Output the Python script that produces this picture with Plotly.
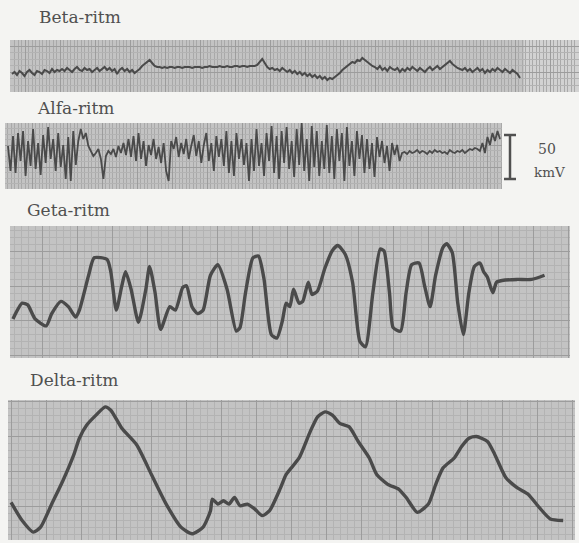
import numpy as np
import plotly.graph_objects as go

W, H = 579, 543

# ---------------- data ----------------
# Beta rhythm: amplitude samples (small, fast)
beta_v = [-2, 0, -3, 1, -1, -4, 0, 2, -1, -3, 1, 0, -2, 2, 1, -1, 3, 0, 2, 1,
          3, 1, 4, 2, 0, 3, 5, 2, 1, 4, 2, 3, 0, 2, 4, 1,
          3, 5, 2, 4, 1, 3, -2, 2, 4, 1, 3, 0, 2, -1, 1,
          3, 6, 8, 10, 12, 9, 6,
          5, 5, 4, 5, 4, 5, 5, 4, 5, 5, 4, 5, 5, 5, 4, 5, 5, 5, 4, 5, 5, 6, 5, 5, 5, 6, 5, 5, 6, 5, 5, 6, 6, 5, 6, 6, 5, 6, 6, 6, 7,
          10, 13, 9, 5, 3,
          4, 2, 3, 1, 4, 2, 0, 2, -1, 1, -2, 0, -3, -1, -4, -2, -5, -3, -6, -4, -7, -5, -8, -6, -7, -5,
          -3, -1, 2, 4, 6, 8, 10, 9, 12, 11, 14, 12, 10, 8, 6,
          5, 3, 6, 2, 4, 1, 5, 3, 2, 4, 0, 3, 1, 4, 2, 5, 3, 1, 4, 2, 0, 3, 5, 2, 4, 6, 3, 5, 7,
          9, 11, 8, 6, 4, 3,
          2, 4, 1, 3, 0, 2, 4, 1, 3, -1, 2, 0, 3, 1, 4, 2, 0, 3, 1, -1, 2, 0, -2, -6]

# Alpha rhythm: amplitude samples
alfa_v = [5, -20, 15, -22, 18, -10, 20, -25, 10, -15, 22, -18, 8, -24, 16, -12, 24, -8, 12, -20,
          18, -16, 6, -28, 14, -30, 20, -14, 10,
          22, 12, 18, 5, 0, -5, -2, 2, -8, -28,
          -5, 0, -3, 2, -6, 5, -2, 8, -4, 12, -6, 15, -10, 18, -8, 10, -15, 6, -4, 12, -8, 4, -12, 8, -20, -30,
          10, 2, 14, -6, 8, -3, 12, -8, 5, 16, -5, 10, -12, 6, 18, -10, 8, -20, 15, -6, 12, -15, 20, -22,
          10, -25, 18, -8, 12, -14, 8, -30,
          12, -20, 22, -15, 8, -25, 18, -10, 25, -22, 15, -28, 20, -12, 24, -18, 10, -26, 22, -14, 28, -20,
          12, -30, 25, -16, 20, -25, 10, -18, 26, -22,
          15, -28, 22, -10, 18, -30, 24, -15, 10, -25, 20, -8, 16, -22, 12, -18, 8, -26, 14, -6, 10, -12,
          5, -20, 8, -4, 6, -10,
          -2, -1, -3, 0, -2, -1, 1, -2, 0, -1, -3, 0, -2, 1, -1, 0, -2, -1, -3, 1, -1, -2, 0, -1, 1, -2,
          0, 2, 1, 3, 2, 0,
          8, -2, 14, 6, 18, 10, 20, 12]

beta_t = np.linspace(12, 520, len(beta_v))
alfa_t = np.linspace(8, 500, len(alfa_v))

# Theta ("Geta") rhythm
geta_t = [35, 60, 75, 95, 125, 140, 165, 185, 205, 215, 240, 255, 290, 300, 315, 330, 340, 355, 375, 395,
          405, 420, 435, 460, 475, 495, 505, 520, 535, 550, 570, 590, 615, 640, 650, 665, 685, 700, 715, 735,
          750, 765, 775, 785, 795, 810, 820, 835, 845, 860, 880, 900, 915, 935, 955, 975, 990, 1010, 1030, 1040,
          1055, 1065, 1085, 1100, 1115, 1135, 1150, 1165, 1180, 1200, 1210, 1225, 1240, 1255, 1270, 1285, 1300,
          1310, 1320, 1335, 1345, 1360, 1400, 1440, 1475]
geta_v = [-75, -30, -35, -75, -95, -60, -25, -40, -70, -50, 50, 100, 95, 60, -50, 20, 60, 10, -85, 10,
          75, 0, -105, -40, -50, 15, 20, -40, -60, -50, 50, 80, 10, -110, -100, 0, 100, 105, 40, -120,
          -130, -80, -30, -40, 10, -30, -25, 30, -5, 5, 70, 120, 135, 110, 30, -140, -155, 0, 125, 120,
          0, -100, -110, 0, 80, 85, 20, -40, 50, 130, 140, 115, -30, -120, 0, 75, 85,
          60, 45, 0, 30, 35, 38, 38, 50]

# Delta rhythm
delta_t = [30, 60, 90, 110, 140, 170, 200, 215, 235, 260, 285, 300, 330, 370, 410, 450, 490, 520, 550, 570,
           575, 590, 605, 620, 635, 650, 670, 690, 710, 730, 760, 775, 810, 840, 860, 880, 900, 920, 945, 970,
           1000, 1020, 1050, 1080, 1100, 1130, 1160, 1180, 1200, 1230, 1250, 1270, 1290, 1320, 1340, 1370,
           1400, 1430, 1460, 1490, 1525]
delta_v = [-95, -150, -185, -170, -100, -30, 50, 100, 140, 170, 195, 185, 130, 80, -10, -100, -170, -190, -170, -120,
           -85, -100, -90, -100, -80, -105, -100, -115, -135, -120, -50, -10, 40, 120, 165, 180, 170, 145, 135, 90,
           40, -10, -40, -55, -80, -125, -100, -40, 10, 40, 75, 100, 105, 90, 50, -20,
           -50, -70, -110, -145, -150]

labels = ["Beta-ritm", "Alfa-ritm", "Geta-ritm", "Delta-ritm"]
scale_value = 50          # kmV, height of the calibration bar
scale_text = ["50", "kmV"]

# ---------------- layout / style ----------------
BG = "#f4f4f2"
PANEL = "#c3c3c3"
MAJOR = "#9c9c9c"
MINOR = "#b3b3b3"
INK = "#4a4a4a"
TXT = "#505050"

# pixel boxes (x0, x1, y0, y1) of each strip, axis ranges, grid steps
panels = [
    dict(box=(10, 579, 40, 92), xr=(10, 579), yr=(-20, 32), gx=(35, 3.5, 25), gy=(26, 6.5, 0), lw=2.0,
         t=beta_t, v=beta_v, label_xy=(37, 17), minor_col="#a9a9a9", shape="linear"),
    dict(box=(5, 502, 123, 189), xr=(5, 502), yr=(-38, 28), gx=(35, 3.5, 32), gy=(22, 5.5, -16), lw=1.8,
         t=alfa_t, v=alfa_v, label_xy=(35, 108), minor_col="#a9a9a9", shape="linear"),
    dict(box=(10, 570, 226, 358), xr=(27, 1544), yr=(-187, 191), gx=(95, 19, 590), gy=(100, 20, 19), lw=3.4,
         t=geta_t, v=geta_v, label_xy=(25, 210), minor_col=MINOR, shape="spline"),
    dict(box=(8, 575, 400, 540), xr=(21.7, 1557), yr=(-209, 216), gx=(95, 19, 600), gy=(106, 21.2, 0), lw=3.4,
         t=delta_t, v=delta_v, label_xy=(28, 380), minor_col=MINOR, shape="spline"),
]

fig = go.Figure()
layout = dict(
    width=W, height=H, margin=dict(l=0, r=0, t=0, b=0),
    paper_bgcolor=BG, plot_bgcolor=PANEL, showlegend=False,
    annotations=[], shapes=[],
)

for i, p in enumerate(panels, start=1):
    sfx = "" if i == 1 else str(i)
    x0, x1, y0, y1 = p["box"]
    line = dict(color=INK, width=p["lw"], shape=p["shape"])
    if p["shape"] == "spline":
        line["smoothing"] = 0.6
    fig.add_trace(go.Scatter(
        x=p["t"], y=p["v"], mode="lines", line=line,
        xaxis="x" + sfx, yaxis="y" + sfx, hoverinfo="skip",
    ))
    gx, gy = p["gx"], p["gy"]
    layout["xaxis" + sfx] = dict(
        domain=[x0 / W, x1 / W], range=list(p["xr"]), anchor="y" + sfx,
        showticklabels=False, ticks="", zeroline=False, showline=False,
        showgrid=True, gridcolor=MAJOR, gridwidth=1, tick0=gx[2], dtick=gx[0],
        minor=dict(showgrid=True, gridcolor=p["minor_col"], gridwidth=1, dtick=gx[1], tick0=gx[2]),
        fixedrange=True,
    )
    layout["yaxis" + sfx] = dict(
        domain=[1 - y1 / H, 1 - y0 / H], range=list(p["yr"]), anchor="x" + sfx,
        showticklabels=False, ticks="", zeroline=False, showline=False,
        showgrid=True, gridcolor=MAJOR, gridwidth=1, tick0=gy[2], dtick=gy[0],
        minor=dict(showgrid=True, gridcolor=MINOR, gridwidth=1, dtick=gy[1], tick0=gy[2]),
        fixedrange=True,
    )
    lx, ly = p["label_xy"]
    layout["annotations"].append(dict(
        text=labels[i - 1], x=lx / W, y=1 - ly / H, xref="paper", yref="paper",
        xanchor="left", yanchor="middle", showarrow=False,
        font=dict(family="DejaVu Serif", size=17, color=TXT),
    ))

# faded right end of the beta strip
layout["shapes"].append(dict(
    type="rect", xref="x", yref="y domain", x0=524, x1=579, y0=0, y1=1,
    fillcolor="#d2d2d2", line=dict(width=0), layer="below",
))

# calibration bar (50 kmV) drawn in the alpha strip's amplitude units
bar_bottom = -28
bar_top = bar_bottom + 44
bx, bw = 510 / W, 6 / W
for s in [
    dict(x0=bx, x1=bx, y0=bar_bottom, y1=bar_top),
    dict(x0=bx - bw, x1=bx + bw, y0=bar_top, y1=bar_top),
    dict(x0=bx - bw, x1=bx + bw, y0=bar_bottom, y1=bar_bottom),
]:
    layout["shapes"].append(dict(type="line", xref="paper", yref="y2",
                                 line=dict(color="#505050", width=2.5), **s))

layout["annotations"].append(dict(
    text=scale_text[0], x=547 / W, y=1 - 149 / H, xref="paper", yref="paper",
    showarrow=False, xanchor="center", yanchor="middle",
    font=dict(family="DejaVu Serif", size=14, color=TXT)))
layout["annotations"].append(dict(
    text=scale_text[1], x=549 / W, y=1 - 172 / H, xref="paper", yref="paper",
    showarrow=False, xanchor="center", yanchor="middle",
    font=dict(family="DejaVu Serif", size=13.5, color=TXT)))

fig.update_layout(**layout)
fig.write_html(
    "out.html",
    config=dict(displayModeBar=False),
    post_script="document.body.style.margin='0';document.body.style.overflow='hidden';",
)
